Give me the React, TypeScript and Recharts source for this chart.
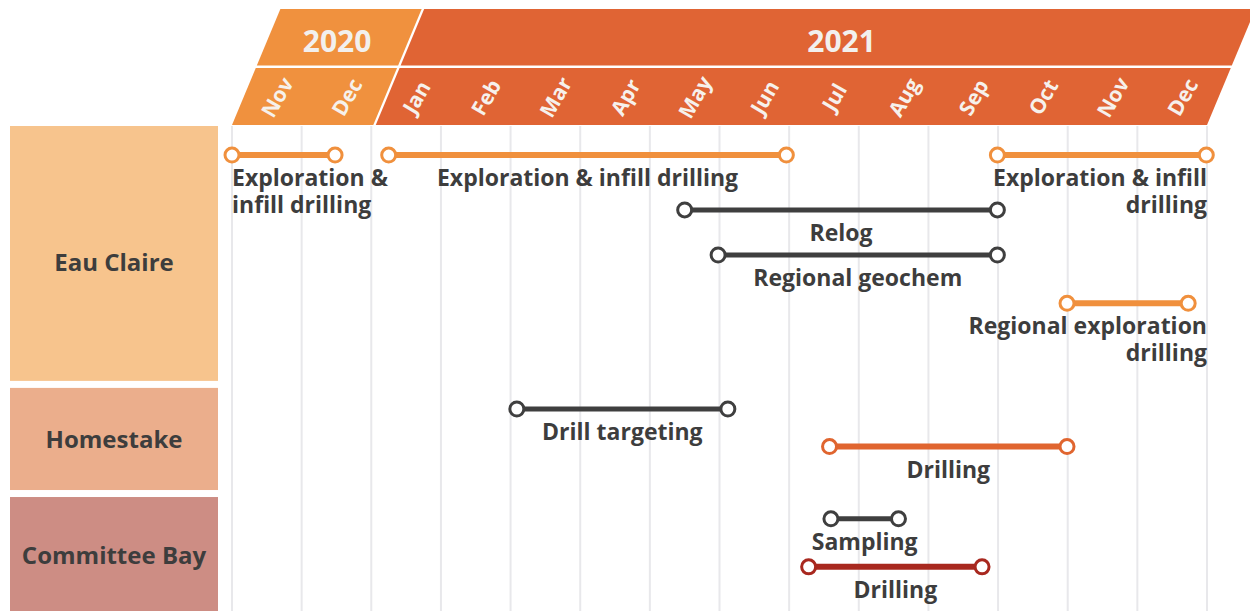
import React from 'react';
import { ComposedChart, Scatter, XAxis, YAxis, ReferenceArea, ReferenceLine } from 'recharts';

// ---- data ----
const MONTHS = ['Nov', 'Dec', 'Jan', 'Feb', 'Mar', 'Apr', 'May', 'Jun', 'Jul', 'Aug', 'Sep', 'Oct', 'Nov', 'Dec'];
const YEARS = [
  { label: '2020', start: 0, end: 2 },
  { label: '2021', start: 2, end: 14 },
];
const PROJECTS = [
  { name: 'Eau Claire', from: 0, to: 5.4 },
  { name: 'Homestake', from: 5.4, to: 7.65 },
  { name: 'Committee Bay', from: 7.65, to: 10 },
];
// start / end in months since Nov 2020, lane = row position
const TASKS = [
  { id: 'ec1', label: ['Exploration &', 'infill drilling'], start: 0, end: 1.48, lane: 0.6, kind: 'ec', align: 'start' },
  { id: 'ec2', label: ['Exploration & infill drilling'], start: 2.25, end: 7.96, lane: 0.6, kind: 'ec', align: 'middle' },
  { id: 'ec3', label: ['Exploration & infill', 'drilling'], start: 10.99, end: 13.99, lane: 0.6, kind: 'ec', align: 'right' },
  { id: 'relog', label: ['Relog'], start: 6.5, end: 10.99, lane: 1.73, kind: 'study', align: 'middle' },
  { id: 'geo', label: ['Regional geochem'], start: 6.98, end: 10.99, lane: 2.66, kind: 'study', align: 'middle' },
  { id: 'regx', label: ['Regional exploration', 'drilling'], start: 11.99, end: 13.73, lane: 3.655, kind: 'ec', align: 'right' },
  { id: 'dt', label: ['Drill targeting'], start: 4.09, end: 7.12, lane: 5.835, kind: 'study', align: 'middle' },
  { id: 'hsd', label: ['Drilling'], start: 8.58, end: 11.99, lane: 6.61, kind: 'hs', align: 'middle' },
  { id: 'samp', label: ['Sampling'], start: 8.6, end: 9.57, lane: 8.1, kind: 'study', align: 'middle' },
  { id: 'cbd', label: ['Drilling'], start: 8.28, end: 10.77, lane: 9.09, kind: 'cb', align: 'middle' },
];

// ---- styles ----
const FONT = "'Open Sans', 'DejaVu Sans', sans-serif";
const TEXT = '#3d3d3d';
const KIND_COLOR: Record<string, string> = { ec: '#f0903d', study: '#3f3f3f', hs: '#e0652f', cb: '#a8281f' };
const KIND_WIDTH: Record<string, number> = { ec: 6, study: 5, hs: 6, cb: 6 };
const YEAR_COLORS = ['#f0913e', '#e06434'];
const YEAR_LABEL_DX = [0, 17];
const PROJECT_COLORS = ['#f7c48d', '#ebae8c', '#cd8d84'];
const PROJECT_LABEL_DY = [8, 0, 0];
const SLANT = 0.417;
const H_BOTTOM = 125;
const H_LOWER_TOP = 68;
const H_UPPER_BOTTOM = 65.5;
const H_TOP = 9;

const X_MAX = MONTHS.length;

const shiftAt = (y: number) => SLANT * (H_BOTTOM - y);
const para = (xl: number, xr: number, yb: number, yt: number) =>
  `${xl + shiftAt(yb)},${yb} ${xr + shiftAt(yb)},${yb} ${xr + shiftAt(yt)},${yt} ${xl + shiftAt(yt)},${yt}`;

const YearBand = (props: any) => {
  const { x, width, idx } = props;
  const last = idx === YEARS.length - 1;
  const xl = x + (idx > 0 ? 4.5 : 0);
  const xr = x + width + (last ? 0 : 2);
  const color = YEAR_COLORS[idx];
  const ly = 40;
  const lx = x + width / 2 + shiftAt(ly) + YEAR_LABEL_DX[idx];
  return (
    <g>
      <polygon points={para(xl, xr, H_UPPER_BOTTOM, H_TOP)} fill={color} />
      <polygon points={para(xl, xr, H_BOTTOM, H_LOWER_TOP)} fill={color} />
      <text x={lx} y={ly} textAnchor="middle" dominantBaseline="central" fill="#f2f0ee"
        fontSize={30} fontWeight={700} fontFamily={FONT}>{YEARS[idx].label}</text>
    </g>
  );
};

const MonthTick = (props: any) => {
  const { x, payload } = props;
  const label = MONTHS[Math.floor(payload.value)];
  const cx = x + 10;
  const cy = 97;
  return (
    <text x={cx} y={cy} transform={`rotate(-60 ${cx} ${cy})`} textAnchor="middle" dominantBaseline="central"
      fill="#f6f1ec" fontSize={21} fontWeight={700} fontFamily={FONT}>{label}</text>
  );
};

const ProjectBox = (props: any) => {
  const { x, y, height, idx } = props;
  const last = idx === PROJECTS.length - 1;
  const h = height - (last ? 0 : 7);
  const bx = x - 222;
  const bw = 208;
  return (
    <g>
      <rect x={bx} y={y} width={bw} height={h} fill={PROJECT_COLORS[idx]} />
      <text x={bx + bw / 2} y={y + h / 2 + PROJECT_LABEL_DY[idx]} textAnchor="middle" dominantBaseline="central" fill={TEXT}
        fontSize={24} fontWeight={700} fontFamily={FONT}>{PROJECTS[idx].name}</text>
    </g>
  );
};

const Dot = (color: string) => (p: any) => (
  <circle cx={p.cx} cy={p.cy} r={7} fill="#ffffff" stroke={color} strokeWidth={3} />
);

const labelData = TASKS.map((t) => ({
  x: t.align === 'start' ? t.start : t.align === 'right' ? X_MAX : (t.start + t.end) / 2,
  y: t.lane,
  lines: t.label,
  anchor: t.align === 'start' ? 'start' : t.align === 'right' ? 'end' : 'middle',
}));

const TaskLabel = (p: any) => {
  const { cx, cy, payload } = p;
  return (
    <text x={cx} y={cy + 31} textAnchor={payload.anchor} fill={TEXT} fontSize={23} fontWeight={700} fontFamily={FONT}>
      {payload.lines.map((l: string, i: number) => (
        <tspan key={i} x={cx} dy={i === 0 ? 0 : 27}>{l}</tspan>
      ))}
    </text>
  );
};

export default function App() {
  return (
    <div style={{ position: 'absolute', left: 0, top: 0, width: 1250, height: 611, background: '#fff', fontFamily: FONT }}>
      <ComposedChart width={1250} height={611} margin={{ top: 66, right: 43, bottom: 0, left: 232 }}>
        <YAxis type="number" dataKey="y" domain={[0, 10]} reversed hide />
        {MONTHS.concat(['']).map((_, i) => (
          <ReferenceLine key={`g${i}`} x={i} stroke="#e8e8eb" strokeWidth={2} ifOverflow="visible" />
        ))}
        {YEARS.map((yr, i) => (
          <ReferenceArea key={yr.label} x1={yr.start} x2={yr.end} ifOverflow="visible"
            shape={(p: any) => <YearBand {...p} idx={i} />} />
        ))}
        {PROJECTS.map((pr, i) => (
          <ReferenceArea key={pr.name} y1={pr.from} y2={pr.to} ifOverflow="visible"
            shape={(p: any) => <ProjectBox {...p} idx={i} />} />
        ))}
        <XAxis type="number" dataKey="x" orientation="top" domain={[0, X_MAX]}
          ticks={MONTHS.map((_, i) => i + 0.5)} interval={0} axisLine={false} tickLine={false}
          height={60} tick={MonthTick} />
        {TASKS.map((t) => (
          <Scatter key={t.id} data={[{ x: t.start, y: t.lane }, { x: t.end, y: t.lane }]}
            line={{ stroke: KIND_COLOR[t.kind], strokeWidth: KIND_WIDTH[t.kind] }} lineType="joint"
            shape={Dot(KIND_COLOR[t.kind])} isAnimationActive={false} />
        ))}
        <Scatter data={labelData} shape={TaskLabel} isAnimationActive={false} />
      </ComposedChart>
    </div>
  );
}
